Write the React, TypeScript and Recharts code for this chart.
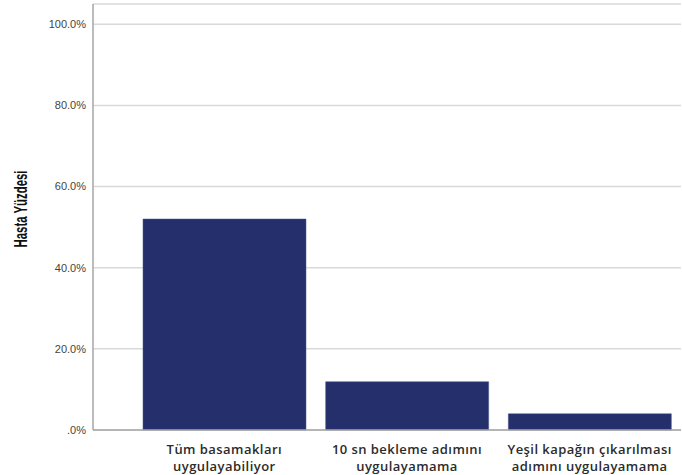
import React from 'react';
import { BarChart, Bar, XAxis, YAxis, CartesianGrid } from 'recharts';

const categories = [
  ['Tüm basamakları', 'uygulayabiliyor'],
  ['10 sn bekleme adımını', 'uygulayamama'],
  ['Yeşil kapağın çıkarılması', 'adımını uygulayamama'],
];
const percents = [52.0, 11.9, 4.0];
const yTicks = [0, 20, 40, 60, 80, 100];

const data = categories.map((lines, i) => ({ name: lines.join('\n'), value: percents[i] }));

const formatPct = (v: number) => (v === 0 ? '.0%' : `${v.toFixed(1)}%`);

const CategoryTick = (props: any) => {
  const { x, y, payload } = props;
  const lines = String(payload.value).split('\n');
  return (
    <g transform={`translate(${x},${y})`}>
      {lines.map((line, i) => (
        <text
          key={i}
          x={0}
          y={15.5 + i * 17.5}
          textAnchor="middle"
          fill="#2b2b2b"
          fontSize={13}
          letterSpacing={0.45}
          fontWeight={600}
          fontFamily="'Open Sans', Lato, sans-serif"
        >
          {line}
        </text>
      ))}
    </g>
  );
};

// condensed bold title, squeezed to the width it has in the reference
const YTitle = (props: any) => {
  const { viewBox } = props;
  const cx = 20;
  const cy = viewBox.y + viewBox.height / 2 - 8;
  return (
    <text
      x={cx}
      y={cy}
      transform={`rotate(-90, ${cx}, ${cy})`}
      textAnchor="middle"
      dominantBaseline="central"
      fill="#111"
      fontSize={18.5}
      fontWeight="bold"
      fontFamily="'Liberation Sans', Arial, sans-serif"
      textLength={77}
      lengthAdjust="spacingAndGlyphs"
    >
      Hasta Yüzdesi
    </text>
  );
};

export default function App() {
  return (
    <div style={{ position: 'absolute', left: 0, top: 0, background: '#fff' }}>
      <BarChart
        width={682}
        height={475}
        data={data}
        margin={{ top: 4, right: 1, bottom: 0, left: 0 }}
        barCategoryGap={10}
      >
        <CartesianGrid vertical={false} stroke="#d9d9d9" strokeWidth={1.5} />
        <XAxis
          dataKey="name"
          height={45}
          padding={{ left: 40, right: 0 }}
          tickLine={false}
          axisLine={{ stroke: '#a6a6a6', strokeWidth: 1.5 }}
          tick={<CategoryTick />}
          interval={0}
        />
        <YAxis
          width={93}
          domain={[0, 105]}
          ticks={yTicks}
          tickFormatter={formatPct}
          tickLine={false}
          axisLine={{ stroke: '#a6a6a6', strokeWidth: 1.5 }}
          tick={{ fill: '#444', fontSize: 11, fontFamily: "'Liberation Sans', Arial, sans-serif" }}
          tickMargin={1}
          label={<YTitle />}
        />
        <Bar dataKey="value" fill="#252f6b" stroke="#4a5590" strokeWidth={0.5} isAnimationActive={false} />
      </BarChart>
    </div>
  );
}
